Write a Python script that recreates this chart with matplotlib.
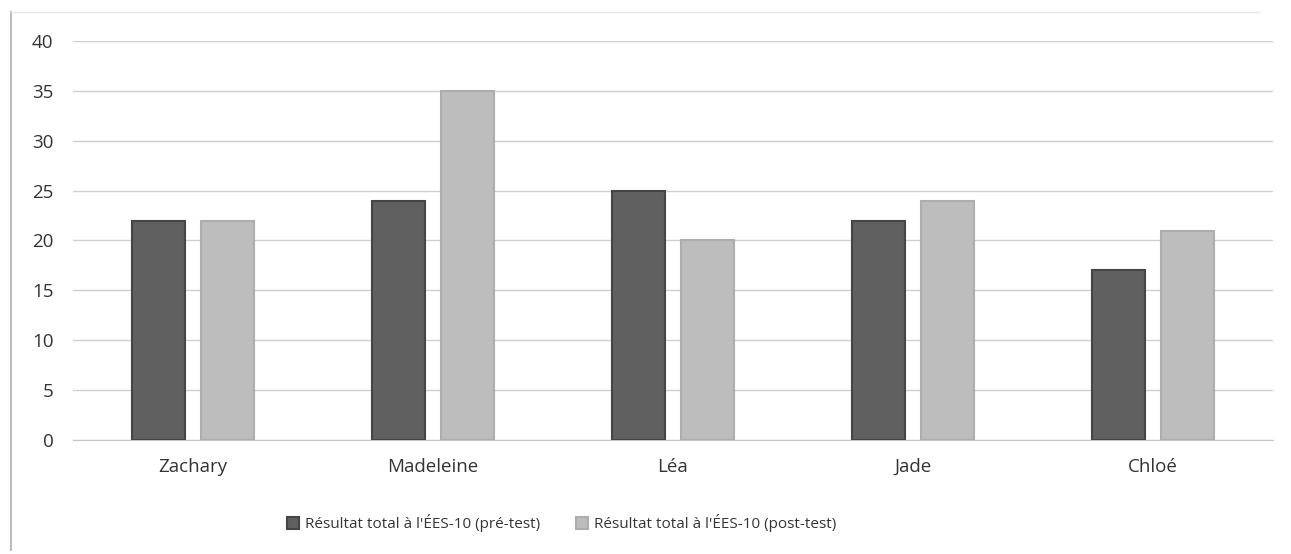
import numpy as np
import matplotlib.pyplot as plt
from matplotlib.lines import Line2D

plt.rcParams['font.family'] = ['Open Sans', 'DejaVu Sans']

eleves = ['Zachary', 'Madeleine', 'Léa', 'Jade', 'Chloé']
pre_test = [22, 24, 25, 22, 17]
post_test = [22, 35, 20, 24, 21]
yticks = [0, 5, 10, 15, 20, 25, 30, 35, 40]

label_pre = "Résultat total à l'ÉES-10 (pré-test)"
label_post = "Résultat total à l'ÉES-10 (post-test)"

fig = plt.figure(figsize=(12.91, 5.54), dpi=100)
ax = fig.add_axes([0.0565, 0.2058, 0.9295, 0.7202])

# bord gauche et haut du cadre
fig.add_artist(Line2D([0.0088, 0.0088], [0.007, 0.978], transform=fig.transFigure,
                      color='#bdbdbd', linewidth=1.5))
fig.add_artist(Line2D([0.0088, 0.975], [0.978, 0.978], transform=fig.transFigure,
                      color='#e6e6e6', linewidth=1.0))

x = np.arange(len(eleves))
w = 0.22
ax.bar(x - 0.144, pre_test, w, color='#606060', edgecolor='#454545', linewidth=1.5,
       label=label_pre, zorder=3)
ax.bar(x + 0.144, post_test, w, color='#bdbdbd', edgecolor='#adadad', linewidth=1.5,
       label=label_post, zorder=3)

ax.set_xlim(-0.5, len(eleves) - 0.5)
ax.set_ylim(0, 40)
ax.set_yticks(yticks)
ax.set_xticks(x)
ax.set_xticklabels(eleves)
ax.grid(axis='y', color='#cfcfcf', linewidth=1.0, zorder=0)
for s in ['top', 'right', 'left']:
    ax.spines[s].set_visible(False)
ax.spines['bottom'].set_color('#c4c4c4')
ax.tick_params(axis='both', length=0, labelsize=13.5, colors='#333333')
ax.tick_params(axis='x', pad=13)
ax.tick_params(axis='y', pad=14)
for lbl in ax.get_xticklabels() + ax.get_yticklabels():
    lbl.set_fontweight('medium')

leg = fig.legend(loc='center', bbox_to_anchor=(0.435, 0.056), ncol=2, frameon=False,
                 fontsize=11, handlelength=0.8, handleheight=0.8, handletextpad=0.4,
                 columnspacing=2.3, labelcolor='#353535')
for t in leg.get_texts():
    t.set_fontweight('medium')

fig.savefig('out.png', dpi=100, facecolor='white')
